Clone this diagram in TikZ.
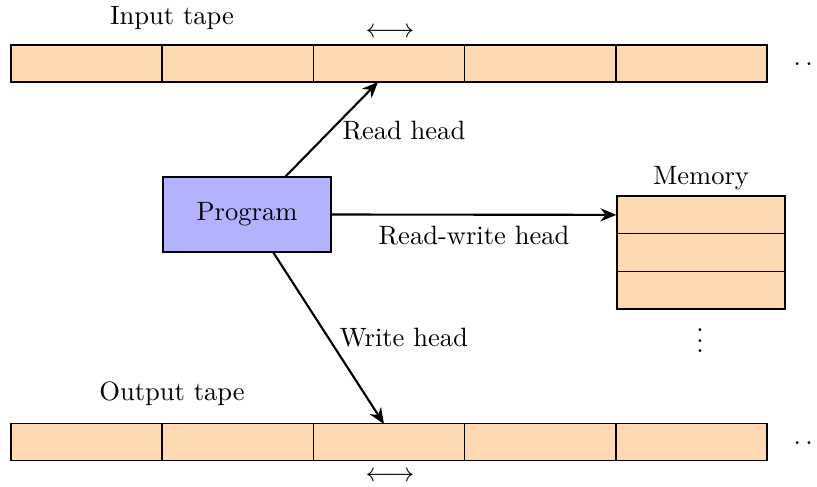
\documentclass[tikz,border=0pt]{standalone}
\usetikzlibrary{arrows.meta}
\begin{document}
\begin{tikzpicture}[x=0.013245cm, y=-0.013245cm,
  cell/.style={draw, fill=orange!30, minimum width=2cm, minimum height=0.49cm, inner sep=0pt, line width=0.5pt},
  memcell/.style={draw, fill=orange!30, minimum width=2.225cm, minimum height=0.5cm, inner sep=0pt, line width=0.5pt},
  prog/.style={draw, fill=blue!30, minimum width=2.225cm, minimum height=0.99cm, inner sep=0pt, line width=0.5pt},
  head/.style={-{Stealth[length=6pt,width=5pt]}, line width=0.8pt},
  lbl/.style={inner sep=0pt}]
\useasboundingbox (0,0) rectangle (817,486);
% input tape
\foreach \i in {1,...,5} {
  \node[cell] (in\i) at ({11+151.2*(\i-0.5)},63.5) {};
}
\node[lbl] (indots) at (809,64.5) {$\ldots$};
\node[lbl] (inlabel) at (172,18) {Input tape};
\node[lbl] (inarrow) at (390,33) {$\longleftrightarrow$};
% output tape
\foreach \i in {1,...,5} {
  \node[cell] (out\i) at ({11+151.2*(\i-0.5)},442) {};
}
\node[lbl] (outdots) at (809,443) {$\ldots$};
\node[lbl] (outlabel) at (172,394) {Output tape};
\node[lbl] (outarrow) at (390,477) {$\longleftrightarrow$};
% program
\node[prog] (prog) at (247,214.5) {Program};
% memory
\foreach \i in {1,2,3} {
  \node[memcell] (mem\i) at (701,{196+37.7*(\i-0.5)}) {};
}
\node[lbl] (memlabel) at (701,178) {Memory};
\node[lbl] (memdots) at (700,333) {$\vdots$};
% heads
\coordinate (rs) at (285,177);
\coordinate (re) at (378,82);
\coordinate (ws) at (273,252);
\coordinate (we) at (384,424);
\draw[head] (rs) -- (re);
\draw[head] (prog.east) -- (mem1.west);
\draw[head] (ws) -- (we);
\node[lbl, anchor=west] (rlabel) at (342,131) {Read head};
\node[lbl] (rwlabel) at (474,236) {Read-write head};
\node[lbl, anchor=west] (wlabel) at (339,338) {Write head};
\end{tikzpicture}
\end{document}
